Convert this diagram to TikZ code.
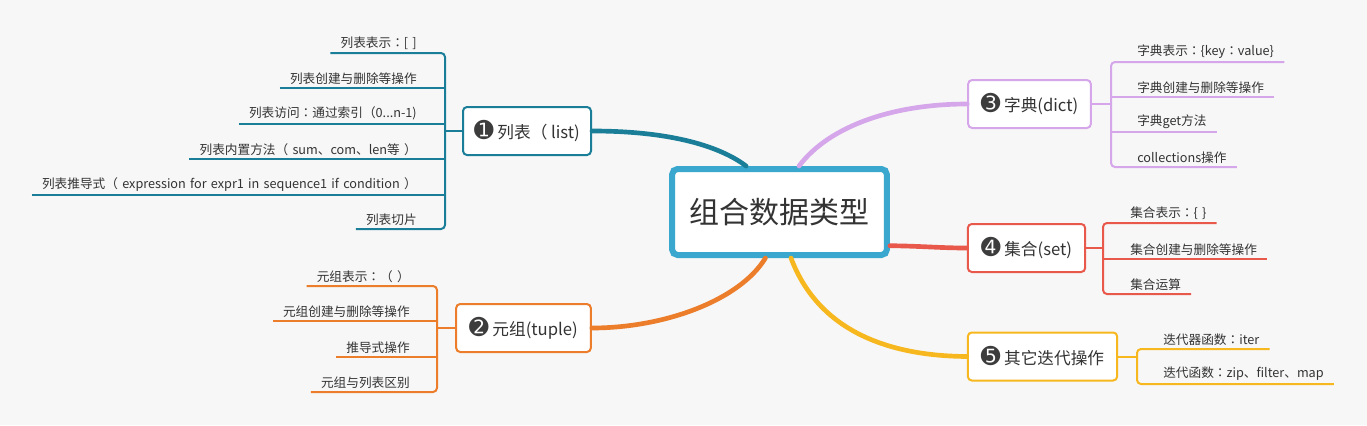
\documentclass[tikz,border=0pt]{standalone}
\usepackage{fontspec}
\setmainfont{Noto Sans CJK SC}
\newfontfamily\leaffont{Noto Sans CJK SC}[WordSpace=1.5]
\newfontfamily\tcfont{Noto Sans CJK TC}
\newfontfamily\dejavu{DejaVu Sans}
\definecolor{bg}{HTML}{F7F7F7}
\definecolor{txt}{HTML}{333333}
\definecolor{badgec}{HTML}{3C3C3C}
\definecolor{mainc}{HTML}{3AA7CF}
\definecolor{listc}{HTML}{1B7E98}
\definecolor{tuplec}{HTML}{EB7D2B}
\definecolor{dictc}{HTML}{D5A6EA}
\definecolor{setc}{HTML}{E8594B}
\definecolor{iterc}{HTML}{F7B71E}
\newcommand{\badge}[1]{{\dejavu\fontsize{17.5}{17.5}\selectfont\color{badgec}#1}}
\newcommand{\zc}{{\tcfont ：}}

\begin{document}
\begin{tikzpicture}[x=0.75pt, y=-0.75pt,
  leaf/.style={inner xsep=7.5pt, inner ysep=2.5pt, text=txt, font=\leaffont\fontsize{9.5}{11}\selectfont},
  leafline/.style={line width=1.5pt, rounded corners=3pt},
  branch/.style={draw=#1, line width=1.5pt, rounded corners=3pt, fill=white,
    minimum height=36pt, inner xsep=0pt, text=txt, font=\fontsize{12.5}{15}\selectfont},
  conn/.style={line width=3.5pt, line cap=round}]
  \useasboundingbox[fill=bg] (0,0) rectangle (1367,425);

  % main topic
  \node[draw=mainc, line width=4.5pt, rounded corners=4pt, fill=white,
    minimum width=161pt, minimum height=64.5pt, text=txt,
    font=\fontsize{22.5}{26}\selectfont] (main) at (779.5,212) {组合数据类型};

  % branches
  \node[branch=listc, minimum width=96pt] (list) at (527,131) {\badge{➊} 列表（ list)};
  \node[branch=tuplec, minimum width=101pt] (tuple) at (523.5,328) {\badge{➋} 元组(tuple)};
  \node[branch=dictc, minimum width=92pt] (dict) at (1029.5,104) {\badge{➌} 字典(dict)};
  \node[branch=setc, minimum width=88pt] (set) at (1026.5,248) {\badge{➍} 集合(set)};
  \node[branch=iterc, minimum width=112pt] (iter) at (1042.5,356.5) {\badge{➎} 其它迭代操作};

  \draw[conn, listc] (list.east) .. controls (680,131) and (725,150) .. (main.126);
  \draw[conn, tuplec] (tuple.east) .. controls (665,328) and (740,300) .. (main.253);
  \draw[conn, dictc] (main.67) .. controls (830,125) and (895,104) .. (dict.west);
  \draw[conn, setc] (main.-17) .. controls (920,246) and (940,248) .. (set.west);
  \draw[conn, iterc] (main.284) .. controls (820,335) and (895,356) .. (iter.west);

  % list leaves
  \coordinate (lb) at (445,0);
  \node[leaf, anchor=south east] (l1) at (427,53) {列表表示\zc[ ]};
  \node[leaf, anchor=south east] (l2) at (427,88) {列表创建与删除等操作};
  \node[leaf, anchor=south east] (l3) at (427,124) {列表访问\zc 通过索引（0...n-1)};
  \node[leaf, anchor=south east] (l4) at (427,159) {列表内置方法（ sum、com、len等 ）};
  \node[leaf, anchor=south east] (l5) at (427,195) {列表推导式（ expression for expr1 in sequence1 if condition ）};
  \node[leaf, anchor=south east] (l6) at (427,229) {列表切片};
  \draw[leafline, listc] (l1.south west) -- (l1.south -| lb) -- (l6.south -| lb) -- (l6.south west);
  \foreach \n in {l2,l3,l4,l5}
    \draw[leafline, listc] (\n.south west) -- (\n.south -| lb);
  \draw[leafline, listc] (lb |- list.west) -- (list.west);

  % tuple leaves
  \coordinate (tb) at (437,0);
  \node[leaf, anchor=south east] (t1) at (420,286) {元组表示\zc（ ）};
  \node[leaf, anchor=south east] (t2) at (420,321) {元组创建与删除等操作};
  \node[leaf, anchor=south east] (t3) at (420,357) {推导式操作};
  \node[leaf, anchor=south east] (t4) at (420,392) {元组与列表区别};
  \draw[leafline, tuplec] (t1.south west) -- (t1.south -| tb) -- (t4.south -| tb) -- (t4.south west);
  \foreach \n in {t2,t3}
    \draw[leafline, tuplec] (\n.south west) -- (\n.south -| tb);
  \draw[leafline, tuplec] (tb |- tuple.east) -- (tuple.west);

  % dict leaves
  \coordinate (db) at (1111,0);
  \node[leaf, anchor=south west] (d1) at (1127,62) {字典表示\zc\{key\zc value\}};
  \node[leaf, anchor=south west] (d2) at (1127,97) {字典创建与删除等操作};
  \node[leaf, anchor=south west] (d3) at (1127,132) {字典get方法};
  \node[leaf, anchor=south west] (d4) at (1127,167) {collections操作};
  \draw[leafline, dictc] (d1.south east) -- (d1.south -| db) -- (d4.south -| db) -- (d4.south east);
  \foreach \n in {d2,d3}
    \draw[leafline, dictc] (\n.south east) -- (\n.south -| db);
  \draw[leafline, dictc] (dict.east) -- (db |- dict.east);

  % set leaves
  \coordinate (sb) at (1103,0);
  \node[leaf, anchor=south west] (s1) at (1120,223) {集合表示\zc\{ \}};
  \node[leaf, anchor=south west] (s2) at (1120,259) {集合创建与删除等操作};
  \node[leaf, anchor=south west] (s3) at (1120,294) {集合运算};
  \draw[leafline, setc] (s1.south east) -- (s1.south -| sb) -- (s3.south -| sb) -- (s3.south east);
  \draw[leafline, setc] (s2.south east) -- (s2.south -| sb);
  \draw[leafline, setc] (set.east) -- (sb |- set.east);

  % iter leaves
  \coordinate (ib) at (1137,0);
  \node[leaf, anchor=south west] (i1) at (1153,349) {迭代器函数\zc iter};
  \node[leaf, anchor=south west] (i2) at (1153,384) {迭代函数\zc zip、filter、map};
  \draw[leafline, iterc] (i1.south east) -- (i1.south -| ib) -- (i2.south -| ib) -- (i2.south east);
  \draw[leafline, iterc] (iter.east) -- (ib |- iter.east);
\end{tikzpicture}
\end{document}
